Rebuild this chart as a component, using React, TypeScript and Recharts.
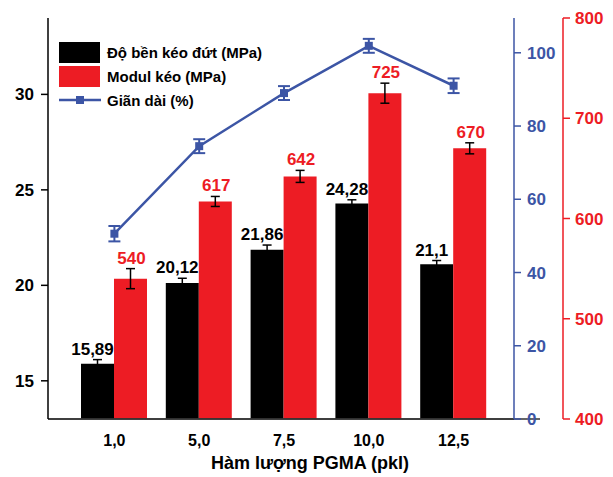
import React from 'react';
import {
  ComposedChart,
  Bar,
  Line,
  XAxis,
  YAxis,
  ErrorBar,
  LabelList,
  Legend,
  Label,
  ReferenceLine,
} from 'recharts';

// ---- Data ----
const categories = ['1,0', '5,0', '7,5', '10,0', '12,5'];
const tensileStrength = [15.89, 20.12, 21.86, 24.28, 21.1];
const tensileStrengthErr = [0.22, 0.25, 0.25, 0.2, 0.2];
const strengthLabels = ['15,89', '20,12', '21,86', '24,28', '21,1'];
const tensileModulus = [540, 617, 642, 725, 670];
const tensileModulusErr = [10, 5, 6, 10, 5.5];
const modulusLabels = ['540', '617', '642', '725', '670'];
const elongation = [50.6, 74.5, 89.0, 101.9, 91.0];
const elongationErr = [2.1, 1.9, 1.9, 1.9, 2.0];

const leftTicks = [15, 20, 25, 30];
const blueTicks = [0, 20, 40, 60, 80, 100];
const redTicks = [400, 500, 600, 700, 800];

const LEFT_DOMAIN: [number, number] = [13, 34];
const BLUE_DOMAIN: [number, number] = [0, 109.5];
const RED_DOMAIN: [number, number] = [400, 800];

const seriesNames = ['Độ bền kéo đứt (MPa)', 'Modul kéo (MPa)', 'Giãn dài (%)'];
const xTitle = 'Hàm lượng PGMA (pkl)';

const data = categories.map((c, i) => ({
  cat: c,
  strength: tensileStrength[i],
  strengthErr: tensileStrengthErr[i],
  modulus: tensileModulus[i],
  modulusErr: tensileModulusErr[i],
  elong: elongation[i],
  elongErr: elongationErr[i],
}));

// ---- Styles ----
const FONT = '"Liberation Sans", Arial, sans-serif';
const BLACK = '#000000';
const RED = '#ed1c24';
const BLUE = '#3c55a5';
const AXIS_GRAY = '#333333';

const makeBarLabel =
  (errs: number[], labels: string[], domainMin: number, color: string, dx: number) =>
  (props: any) => {
    const vb = props.viewBox || {};
    const x = props.x ?? vb.x;
    const y = props.y ?? vb.y;
    const width = props.width ?? vb.width;
    const height = props.height ?? vb.height;
    const index = props.index;
    const value = Number(props.value);
    const pxPerUnit = height / (value - domainMin);
    const errPx = errs[index] * pxPerUnit;
    return (
      <text
        x={x + width / 2 + dx}
        y={y - errPx - 5}
        textAnchor="middle"
        fill={color}
        fontSize={17}
        fontWeight="bold"
        fontFamily={FONT}
      >
        {labels[index]}
      </text>
    );
  };

const SquareDot = (p: any) => {
  if (p.cx == null || p.cy == null) return null;
  return <rect key={`d-${p.index}`} x={p.cx - 4} y={p.cy - 4} width={8} height={8} fill={BLUE} />;
};

// baseline drawn across the plot and a little past the inner right axis
const BaseLine = (p: any) => {
  const x1 = Math.min(p.x1, p.x2);
  const x2 = Math.max(p.x1, p.x2);
  return <line x1={x1} y1={p.y1} x2={x2 + 26} y2={p.y2} stroke={AXIS_GRAY} strokeWidth={1.5} />;
};

const LegendContent = () => {
  const row: React.CSSProperties = {
    display: 'flex',
    alignItems: 'center',
    height: 24,
  };
  const text: React.CSSProperties = {
    marginLeft: 7,
    fontFamily: FONT,
    fontWeight: 'bold',
    fontSize: 15,
    color: '#000',
    whiteSpace: 'nowrap',
  };
  return (
    <div>
      <div style={row}>
        <div style={{ width: 41, height: 21, background: BLACK }} />
        <span style={text}>{seriesNames[0]}</span>
      </div>
      <div style={row}>
        <div style={{ width: 41, height: 21, background: RED }} />
        <span style={text}>{seriesNames[1]}</span>
      </div>
      <div style={row}>
        <svg width={42} height={24} style={{ display: 'block' }}>
          <line x1={0} y1={12} x2={42} y2={12} stroke={BLUE} strokeWidth={2.5} />
          <rect x={17} y={8} width={8} height={8} fill={BLUE} />
        </svg>
        <span style={{ ...text, marginLeft: 6 }}>{seriesNames[2]}</span>
      </div>
    </div>
  );
};

export default function App() {
  return (
    <div style={{ position: 'absolute', left: 0, top: 0, width: 613, height: 477, background: '#fff' }}>
      <ComposedChart
        width={613}
        height={477}
        data={data}
        margin={{ top: 18, right: 0, bottom: 0, left: 0 }}
        barGap={0}
      >
        <XAxis
          dataKey="cat"
          xAxisId="x"
          height={58}
          padding={{ left: 24, right: 18 }}
          tickLine={false}
          tickSize={6}
          tickMargin={10}
          axisLine={{ stroke: AXIS_GRAY, strokeWidth: 1.5 }}
          tick={{ fill: '#000', fontSize: 16, fontWeight: 'bold', fontFamily: FONT }}
        >
          <Label
            value={xTitle}
            position="insideBottom"
            offset={8}
            dx={29}
            fill="#000"
            fontSize={18}
            fontWeight="bold"
            fontFamily={FONT}
          />
        </XAxis>
        <YAxis
          yAxisId="left"
          orientation="left"
          width={48}
          domain={LEFT_DOMAIN}
          ticks={leftTicks}
          allowDataOverflow
          tickSize={7}
          tickMargin={7}
          axisLine={{ stroke: '#000', strokeWidth: 1.5 }}
          tickLine={{ stroke: '#000', strokeWidth: 1.5 }}
          tick={{ fill: '#000', fontSize: 17, fontWeight: 'bold', fontFamily: FONT }}
        />
        <YAxis
          yAxisId="blue"
          orientation="right"
          width={49}
          domain={BLUE_DOMAIN}
          ticks={blueTicks}
          allowDataOverflow
          tickSize={7}
          tickMargin={6}
          axisLine={{ stroke: BLUE, strokeWidth: 1.5 }}
          tickLine={{ stroke: BLUE, strokeWidth: 1.5 }}
          tick={{ fill: BLUE, fontSize: 17, fontWeight: 'bold', fontFamily: FONT, textAnchor: 'start' }}
        />
        <YAxis
          yAxisId="red"
          orientation="right"
          width={50}
          domain={RED_DOMAIN}
          ticks={redTicks}
          allowDataOverflow
          tickSize={7}
          tickMargin={5}
          axisLine={{ stroke: RED, strokeWidth: 1.5 }}
          tickLine={{ stroke: RED, strokeWidth: 1.5 }}
          tick={{ fill: RED, fontSize: 17, fontWeight: 'bold', fontFamily: FONT, textAnchor: 'start' }}
        />
        <Legend
          layout="vertical"
          align="center"
          verticalAlign="middle"
          content={<LegendContent />}
          wrapperStyle={{ top: 40, left: 59, width: 'auto', height: 'auto' }}
        />
        <ReferenceLine
          xAxisId="x"
          yAxisId="left"
          y={LEFT_DOMAIN[0]}
          ifOverflow="visible"
          shape={BaseLine}
        />
        <Bar
          dataKey="strength"
          xAxisId="x"
          yAxisId="left"
          fill={BLACK}
          barSize={33}
          isAnimationActive={false}
        >
          <ErrorBar dataKey="strengthErr" width={4.5} stroke="#000" strokeWidth={1.5} direction="y" />
          <LabelList
            dataKey="strength"
            content={makeBarLabel(tensileStrengthErr, strengthLabels, LEFT_DOMAIN[0], '#000', -5)}
          />
        </Bar>
        <Bar
          dataKey="modulus"
          xAxisId="x"
          yAxisId="red"
          fill={RED}
          barSize={33}
          isAnimationActive={false}
        >
          <ErrorBar dataKey="modulusErr" width={4.5} stroke="#000" strokeWidth={1.5} direction="y" />
          <LabelList
            dataKey="modulus"
            content={makeBarLabel(tensileModulusErr, modulusLabels, RED_DOMAIN[0], RED, 1)}
          />
        </Bar>
        <Line
          dataKey="elong"
          xAxisId="x"
          yAxisId="blue"
          stroke={BLUE}
          strokeWidth={2.5}
          dot={SquareDot}
          activeDot={false}
          isAnimationActive={false}
        >
          <ErrorBar dataKey="elongErr" width={6} stroke={BLUE} strokeWidth={2} direction="y" />
        </Line>
      </ComposedChart>
    </div>
  );
}
